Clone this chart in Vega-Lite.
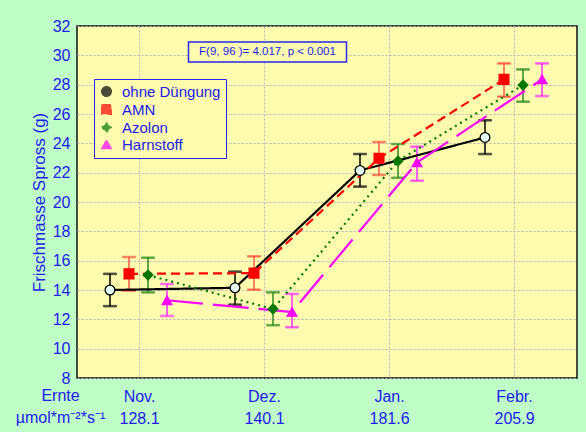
{
  "$schema": "https://vega.github.io/schema/vega-lite/v6.json",
  "width": 500,
  "height": 352,
  "autosize": {"type": "none"},
  "padding": {"left": 77, "top": 26, "right": 9, "bottom": 54},
  "background": "#c0fec8",
  "config": {
    "font": "Liberation Sans",
    "view": {"fill": "#fffcb0", "stroke": "#111111", "strokeWidth": 1.5}
  },
  "datasets": {
    "main": [
      {"monat": "Nov.|128.1", "serie": "ohne Düngung", "mw": 14.0, "lo": 12.9, "hi": 15.1},
      {"monat": "Dez.|140.1", "serie": "ohne Düngung", "mw": 14.15, "lo": 13.0, "hi": 15.25},
      {"monat": "Jan.|181.6", "serie": "ohne Düngung", "mw": 22.15, "lo": 21.05, "hi": 23.27},
      {"monat": "Febr.|205.9", "serie": "ohne Düngung", "mw": 24.4, "lo": 23.27, "hi": 25.57},
      {"monat": "Nov.|128.1", "serie": "AMN", "mw": 15.1, "lo": 13.95, "hi": 16.25},
      {"monat": "Dez.|140.1", "serie": "AMN", "mw": 15.15, "lo": 14.02, "hi": 16.3},
      {"monat": "Jan.|181.6", "serie": "AMN", "mw": 22.98, "lo": 21.84, "hi": 24.09},
      {"monat": "Febr.|205.9", "serie": "AMN", "mw": 28.36, "lo": 27.18, "hi": 29.45},
      {"monat": "Nov.|128.1", "serie": "Azolon", "mw": 15.02, "lo": 13.84, "hi": 16.2},
      {"monat": "Dez.|140.1", "serie": "Azolon", "mw": 12.7, "lo": 11.6, "hi": 13.84},
      {"monat": "Jan.|181.6", "serie": "Azolon", "mw": 22.8, "lo": 21.65, "hi": 23.95},
      {"monat": "Febr.|205.9", "serie": "Azolon", "mw": 27.97, "lo": 26.84, "hi": 29.04},
      {"monat": "Nov.|128.1", "serie": "Harnstoff", "mw": 13.3, "lo": 12.23, "hi": 14.41},
      {"monat": "Dez.|140.1", "serie": "Harnstoff", "mw": 12.5, "lo": 11.46, "hi": 13.73},
      {"monat": "Jan.|181.6", "serie": "Harnstoff", "mw": 22.7, "lo": 21.45, "hi": 23.77},
      {"monat": "Febr.|205.9", "serie": "Harnstoff", "mw": 28.36, "lo": 27.22, "hi": 29.45}
    ]
  },
  "layer": [
    {
      "data": {"values": [{"t": "F(9, 96 )= 4.017, p < 0.001"}]},
      "mark": {"type": "bar", "width": 158, "stroke": "#2828e8", "strokeWidth": 1.5, "xOffset": 3},
      "encoding": {
        "x": {"datum": "Dez.|140.1", "type": "nominal"},
        "y": {"datum": 29.55, "type": "quantitative"},
        "y2": {"datum": 30.91},
        "color": {"value": "#fffcb0"}
      }
    },
    {
      "data": {"values": [{"t": "F(9, 96 )= 4.017, p < 0.001"}]},
      "mark": {"type": "text", "fontSize": 11.5, "dx": 3, "baseline": "middle", "align": "center"},
      "encoding": {
        "x": {"datum": "Dez.|140.1", "type": "nominal"},
        "y": {"datum": 30.23, "type": "quantitative"},
        "text": {"field": "t", "type": "nominal"},
        "color": {"value": "#2020e8"}
      }
    },
    {
      "data": {"values": [{"t": ""}]},
      "mark": {"type": "text", "fontSize": 1},
      "encoding": {
        "x": {"datum": "Dez.|140.1", "type": "nominal"},
        "y": {"datum": 30.23, "type": "quantitative"},
        "text": {"field": "t"}
      }
    },
    {
      "data": {"values": [{"a": "Ernte"}]},
      "mark": {"type": "text", "fontSize": 16, "align": "center", "baseline": "top", "dx": -79, "dy": 10, "lineHeight": 22},
      "encoding": {
        "x": {"datum": "Nov.|128.1", "type": "nominal"},
        "y": {"datum": 8, "type": "quantitative"},
        "text": {"value": ["Ernte", "µmol*m⁻²*s⁻¹"]},
        "color": {"value": "#2020e8"}
      }
    },
    {
      "data": {"name": "main"},
      "layer": [
        {
          "mark": {"type": "rule", "strokeWidth": 1.5},
          "encoding": {
            "y": {"field": "lo", "type": "quantitative"},
            "y2": {"field": "hi"},
            "stroke": {"field": "serie", "type": "nominal", "legend": null,
              "scale": {"domain": ["ohne Düngung", "AMN", "Azolon", "Harnstoff"], "range": ["#000000", "#ff5a46", "#2e8a22", "#ff30ff"]}}
          }
        },
        {
          "mark": {"type": "tick", "size": 13, "thickness": 1.5},
          "encoding": {
            "y": {"field": "lo", "type": "quantitative"},
            "stroke": {"field": "serie", "type": "nominal", "legend": null}
          }
        },
        {
          "mark": {"type": "tick", "size": 13, "thickness": 1.5},
          "encoding": {
            "y": {"field": "hi", "type": "quantitative"},
            "stroke": {"field": "serie", "type": "nominal", "legend": null}
          }
        },
        {
          "mark": {"type": "line", "strokeWidth": 2.2},
          "encoding": {
            "y": {"field": "mw", "type": "quantitative"},
            "strokeDash": {"field": "serie", "type": "nominal", "legend": null,
              "scale": {"domain": ["ohne Düngung", "AMN", "Azolon", "Harnstoff"], "range": [[1, 0], [9, 5], [2, 4], [36, 10]]}}
          }
        },
        {
          "mark": {"type": "point", "filled": false, "size": 95, "strokeWidth": 1.3, "opacity": 1},
          "encoding": {
            "y": {"field": "mw", "type": "quantitative"},
            "shape": {"field": "serie", "type": "nominal",
              "scale": {"domain": ["ohne Düngung", "AMN", "Azolon", "Harnstoff"], "range": ["circle", "square", "diamond", "triangle-up"]}},
            "fill": {"field": "serie", "type": "nominal",
              "scale": {"domain": ["ohne Düngung", "AMN", "Azolon", "Harnstoff"], "range": ["#e4fff2", "#ff0000", "#007800", "#ff00ff"]}}
          }
        }
      ],
      "encoding": {
        "x": {"field": "monat", "type": "nominal"},
        "xOffset": {"field": "serie", "type": "nominal",
          "scale": {"type": "point", "domain": ["ohne Düngung", "AMN", "Azolon", "Harnstoff"], "range": [33, 90], "padding": 0}}
      }
    }
  ],
  "encoding": {
    "x": {
      "field": "monat", "type": "nominal",
      "scale": {"domain": ["Nov.|128.1", "Dez.|140.1", "Jan.|181.6", "Febr.|205.9"], "paddingInner": 0, "paddingOuter": 0},
      "axis": {"title": null, "labelExpr": "split(datum.label, '|')", "labelAngle": 0, "labelColor": "#2020e8", "labelFontSize": 16, "labelLineHeight": 22, "labelBaseline": "top", "labelPadding": 10, "ticks": false, "domain": false, "grid": true, "gridDash": [2, 2], "gridColor": "#b4b4b4", "bandPosition": 0.5}
    },
    "y": {
      "type": "quantitative",
      "scale": {"domain": [8, 32], "nice": false, "zero": false},
      "axis": {"title": "Frischmasse Spross (g)", "values": [8, 10, 12, 14, 16, 18, 20, 22, 24, 26, 28, 30, 32], "labelColor": "#2020e8", "labelFontSize": 16, "labelPadding": 7, "ticks": false, "domain": false, "grid": true, "gridDash": [2, 2], "gridColor": "#b4b4b4", "titleColor": "#2020e8", "titleFontSize": 17, "titleFontWeight": "normal", "titlePadding": 4}
    },
    "color": {
      "field": "serie", "type": "nominal",
      "scale": {"domain": ["ohne Düngung", "AMN", "Azolon", "Harnstoff"], "range": ["#000000", "#ff0000", "#007800", "#ff00ff"]},
      "legend": {"title": null, "orient": "none", "legendX": 17, "legendY": 53, "padding": 5, "strokeColor": "#2828e8", "fillColor": "#fffcb0", "labelColor": "#2020e8", "labelFontSize": 15, "symbolSize": 90, "rowPadding": 1, "labelOffset": 8, "symbolStrokeWidth": 1.5}
    }
  }
}
